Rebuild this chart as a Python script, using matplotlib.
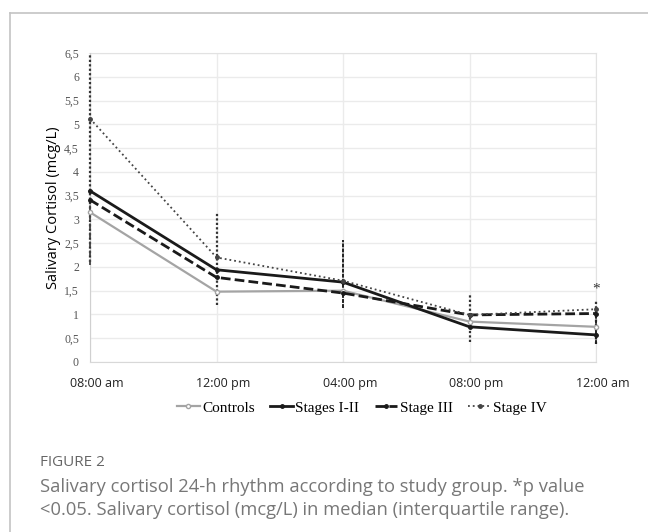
import numpy as np
import matplotlib.pyplot as plt
import matplotlib.transforms as mtransforms
from matplotlib.lines import Line2D

# time points and medians (mcg/L)
times = ["08:00 am", "12:00 pm", "04:00 pm", "08:00 pm", "12:00 am"]
controls = [3.15, 1.48, 1.50, 0.85, 0.74]
stages_1_2 = [3.60, 1.94, 1.68, 0.74, 0.57]
stage_3 = [3.41, 1.78, 1.45, 0.99, 1.02]
stage_4 = [5.12, 2.20, 1.71, 0.99, 1.11]

# interquartile ranges that can be seen (nan = hidden)
nan = np.nan
iqr4_low = [2.10, 1.20, nan, 0.43, 0.38]
iqr4_high = [6.50, 3.15, nan, 1.44, 1.30]
iqr12_low = [nan, nan, 1.14, nan, 0.38]
iqr12_high = [nan, nan, 2.56, nan, 1.05]
iqr3_low = [2.05, nan, nan, nan, nan]
iqr3_high = [3.40, nan, nan, nan, nan]

yticks = np.arange(0, 6.51, 0.5)
ytick_labels = [("%g" % v).replace(".", ",") for v in yticks]

fig = plt.figure(figsize=(6.48, 5.32), dpi=100)
ax = fig.add_axes([90/648, 1-362/532, 506/648, 309/532])

x = np.arange(len(times))

def bars(lo, hi, ls, color, lw):
    for xi, a, b in zip(x, lo, hi):
        if not np.isnan(a):
            ax.plot([xi, xi], [a, b], ls=ls, color=color, lw=lw, clip_on=False, zorder=3)

bars(iqr4_low, iqr4_high, (0, (1, 1)), "#333333", 1.6)
bars(iqr12_low, iqr12_high, (0, (2, 0.6)), "#222222", 1.4)
bars(iqr3_low, iqr3_high, (0, (3, 2)), "#444444", 1.3)

ax.plot(x, controls, "-o", color="#a4a4a4", lw=1.6, ms=3, mfc="white", mec="#a4a4a4",
        label="Controls", clip_on=False, zorder=4)
ax.plot(x, stages_1_2, "-o", color="#1a1a1a", lw=2.0, ms=2.5,
        label="Stages I-II", clip_on=False, zorder=4)
ax.plot(x, stage_3, "--o", color="#1a1a1a", lw=2.0, ms=2.5, dashes=(3.5, 1.5),
        label="Stage III", clip_on=False, zorder=4)
ax.plot(x, stage_4, ":o", color="#444444", lw=1.3, ms=2.5,
        label="Stage IV", clip_on=False, zorder=4)

ax.text(4, 1.54, "*", ha="center", va="center", fontsize=11, color="#333333",
        family="Liberation Serif")

ax.set_xlim(0, 4)
ax.set_ylim(0, 6.5)
ax.set_yticks(yticks)
ax.set_yticklabels(ytick_labels, family="Liberation Serif", fontsize=8.5, color="#555555")
ax.set_xticks(x)
ax.set_xticklabels(times, family="Open Sans", fontsize=9, color="#222222")
ax.tick_params(length=0, axis="y", pad=8)
ax.tick_params(length=0, axis="x", pad=11)
shift = mtransforms.ScaledTranslation(7/100, 0, fig.dpi_scale_trans)
for lab in ax.get_xticklabels():
    lab.set_transform(lab.get_transform() + shift)
ax.grid(True, color="#ebebeb", lw=1)
ax.set_axisbelow(True)
for s in ax.spines.values():
    s.set_color("#e2e2e2")
ax.spines["left"].set_color("#d0d0d0")
ax.spines["bottom"].set_color("#d8d8d8")

ax.set_ylabel("Salivary Cortisol (mcg/L)", family="Open Sans", fontsize=10.5, labelpad=2)

fig.legend(loc="center", bbox_to_anchor=(362/648, 1-408/532), ncol=4, frameon=False,
           prop={"family": "Liberation Serif", "size": 11}, handlelength=1.5,
           handletextpad=0.15, columnspacing=1.0)

# figure frame
fig.add_artist(Line2D([9.5/648, 9.5/648], [0, 1-12.5/532], color="#c4c4c4", lw=1.2))
fig.add_artist(Line2D([9.5/648, 1], [1-12.5/532, 1-12.5/532], color="#c4c4c4", lw=1.2))

fig.text(40/648, 1-462/532, "FIGURE 2", family="Open Sans", fontsize=11,
         color="#666666", va="center")
fig.text(40/648, 1-487/532, "Salivary cortisol 24-h rhythm according to study group. *p value",
         family="Open Sans", fontsize=13.2, color="#777777", va="center")
fig.text(40/648, 1-510/532, "<0.05. Salivary cortisol (mcg/L) in median (interquartile range).",
         family="Open Sans", fontsize=13.2, color="#777777", va="center")

fig.savefig("out.png", dpi=100)
